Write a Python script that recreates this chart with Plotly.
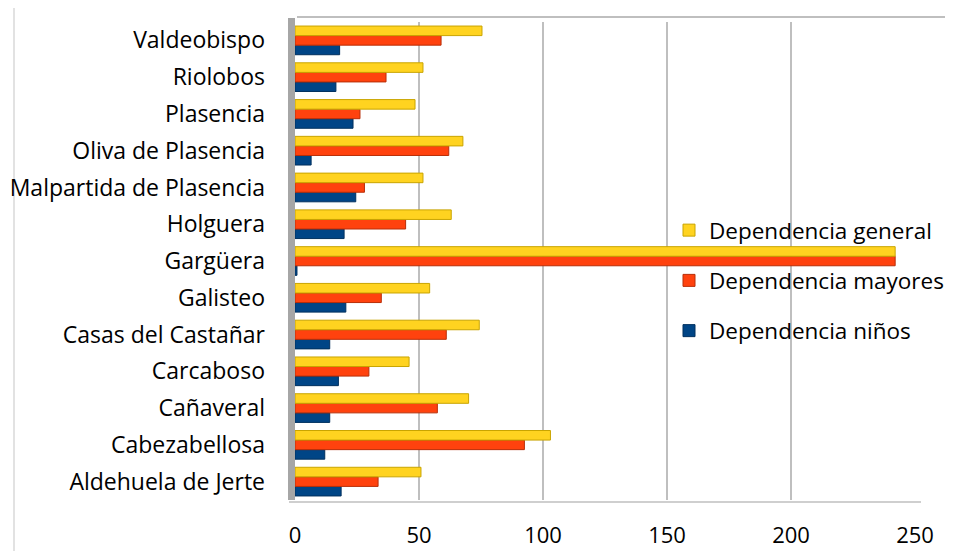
"""Dependency ratios by municipality - 3D-style clustered horizontal bars."""
import plotly.graph_objects as go

FONT = "Open Sans, Liberation Sans, sans-serif"

YELLOW = "#FFD320"
ORANGE = "#FF420E"
BLUE = "#004586"
GRID = "#BFBFBF"
TEXT = "#000000"

# categories, bottom to top as drawn
municipios = [
    "Aldehuela de Jerte", "Cabezabellosa", "Cañaveral", "Carcaboso",
    "Casas del Castañar", "Galisteo", "Gargüera", "Holguera",
    "Malpartida de Plasencia", "Oliva de Plasencia", "Plasencia",
    "Riolobos", "Valdeobispo",
]
dep_general = [50.8, 103, 70, 46, 74.3, 54.3, 242, 63, 51.6, 67.7, 48.4, 51.6, 75.4]
dep_mayores = [33.5, 92.5, 57.4, 29.8, 61, 34.8, 242, 44.6, 28, 62, 26.2, 36.7, 58.9]
dep_ninos = [18.6, 12, 14, 17.5, 14, 20.5, 0.8, 19.8, 24.5, 6.5, 23.4, 16.5, 18]
x_ticks = [0, 50, 100, 150, 200, 250]

# the page body adds an 8px offset, so the figure is drawn 8px smaller
OFF = 8
W, H = 953 - OFF, 551 - OFF
L, R, T, B = 295 - OFF, 38, 22 - OFF, 51

fig = go.Figure()
# added bottom-up so that yellow ends on top in each group
for rank, name, vals, col, edge in [
    (3, "Dependencia niños", dep_ninos, BLUE, "#00305E"),
    (2, "Dependencia mayores", dep_mayores, ORANGE, "#B82E08"),
    (1, "Dependencia general", dep_general, YELLOW, "#C9A400"),
]:
    fig.add_trace(go.Bar(
        y=municipios, x=vals, name=name, orientation="h",
        legendgroup=name, legendrank=rank,
        marker=dict(color=col, line=dict(color=edge, width=1)),
    ))

pw = W - L - R
ph = H - T - B


def px_x(p):
    # p is a pixel position on the reference page
    return (p - OFF - L) / pw


def px_y(p):
    return 1 - (p - OFF - T) / ph


# outer chart frame (bottom runs off the picture)
fig.add_shape(type="rect", xref="paper", yref="paper",
              x0=px_x(14), x1=px_x(949), y0=px_y(570), y1=px_y(6),
              line=dict(color="#D9D9D9", width=1.5), layer="below")
# back-wall top edge and left side wall
fig.add_shape(type="line", xref="paper", yref="paper",
              x0=px_x(297), x1=px_x(949), y0=px_y(17), y1=px_y(17),
              line=dict(color=GRID, width=2), layer="below")
fig.add_shape(type="rect", xref="paper", yref="paper",
              x0=px_x(288), x1=px_x(295), y0=px_y(500), y1=px_y(18),
              fillcolor="#A6A6A6", line=dict(width=0), layer="below")
# floor front edge
fig.add_shape(type="line", xref="paper", yref="paper",
              x0=px_x(289), x1=px_x(921), y0=px_y(502), y1=px_y(502),
              line=dict(color=GRID, width=1.5), layer="below")

fig.update_layout(
    width=W, height=H,
    margin=dict(l=L, r=R, t=T, b=B, autoexpand=False),
    paper_bgcolor="white", plot_bgcolor="white",
    font=dict(family=FONT, color=TEXT, size=23),
    barmode="group", bargap=0.22, bargroupgap=0.0,
    showlegend=True,
    legend=dict(
        x=px_x(669), y=px_y(209), xanchor="left", yanchor="top",
        traceorder="grouped", font=dict(size=22.5), tracegroupgap=18,
        itemwidth=30, bgcolor="rgba(0,0,0,0)",
    ),
)
fig.update_xaxes(
    range=[0, 250], tickvals=x_ticks, showgrid=True, gridcolor=GRID,
    gridwidth=2, zeroline=False, showline=False, ticks="",
    ticklabelstandoff=20, tickfont=dict(size=22), automargin=False,
)
fig.update_yaxes(
    showgrid=False, zeroline=False, showline=False, ticks="",
    ticklabelstandoff=29, tickfont=dict(size=23), automargin=False,
    range=[-0.5, len(municipios) - 0.5],
)

fig.write_html("out.html")
